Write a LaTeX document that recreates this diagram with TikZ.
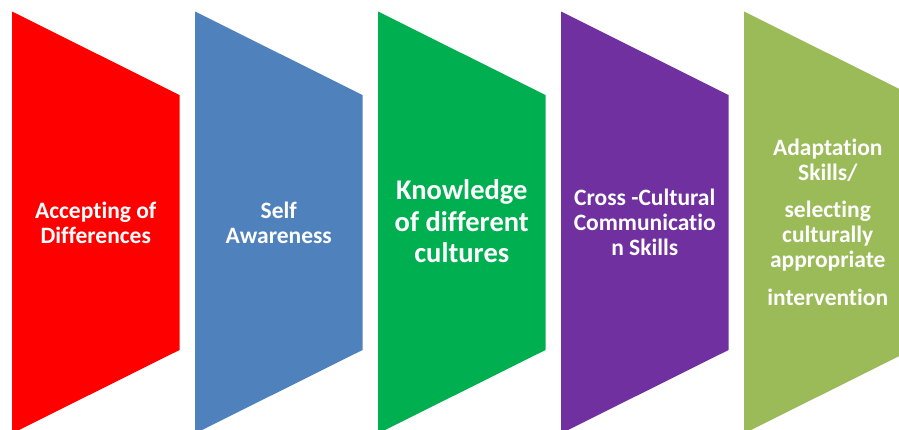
\documentclass[tikz,border=0pt]{standalone}
\usepackage{fontspec}
\setmainfont{Carlito}[Ligatures=NoCommon]
\usetikzlibrary{positioning}

\definecolor{stepred}{HTML}{FF0000}
\definecolor{stepblue}{HTML}{4F81BD}
\definecolor{stepgreen}{HTML}{00B050}
\definecolor{steppurple}{HTML}{7030A0}
\definecolor{stepolive}{HTML}{9BBB59}

\tikzset{
  steptext/.style={text=white, align=center, inner sep=0pt,
    font=\bfseries\fontsize{23.5}{25}\selectfont},
  bigtext/.style={steptext, font=\bfseries\fontsize{28.5}{31.5}\selectfont}
}

\begin{document}
\begin{tikzpicture}[x=1pt, y=-1pt]
\useasboundingbox (0,0) rectangle (899,429);
\clip (0,0) rectangle (899,429);
% the five steps
\foreach \x/\c in {12/stepred, 195/stepblue, 378/stepgreen, 561/steppurple, 744/stepolive}
  \fill[\c] (\x,11.5) -- ++(167.5,83.5) -- ++(0,255) -- ++(-167.5,83.5) -- cycle;
\node[steptext] (accept) at (95.75,222.5) {Accepting of\\Differences};
\node[steptext] (aware) at (278.75,222.5) {Self\\Awareness};
\node[bigtext] (know) at (461.75,221.5) {Knowledge\\of different\\cultures};
\node[steptext] (comm) at (644.75,222.5) {Cross -Cultural\\Communicatio\\n Skills};
\node[steptext] (adapt) at (827.75,222) {Adaptation\\Skills/\\[12pt]selecting\\culturally\\appropriate\\[13pt]intervention};
\end{tikzpicture}
\end{document}
